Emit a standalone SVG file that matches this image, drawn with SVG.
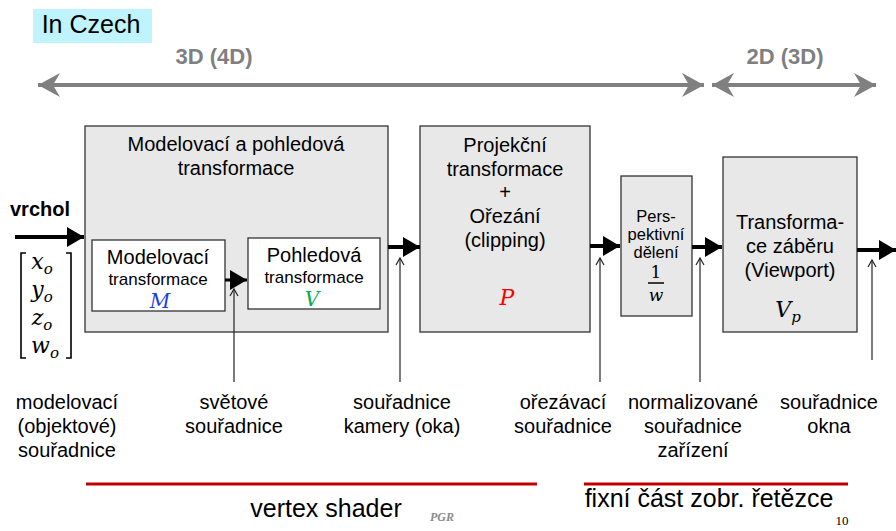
<svg xmlns="http://www.w3.org/2000/svg" width="896" height="531" viewBox="0 0 896 531">
<style>
text{font-family:"Liberation Sans",Arial,sans-serif;fill:#000;text-anchor:middle}
.box{fill:#e8e8e8;stroke:#333;stroke-width:1.3}
.wbox{fill:#fff;stroke:#333;stroke-width:1.3}
.t20{font-size:20px}
.t17{font-size:17px}
.t16{font-size:16.5px}
.math{font-family:"DejaVu Serif","Liberation Serif",serif;font-style:italic}
.thick{stroke:#000;stroke-width:4;fill:none}
.thin{stroke:#222;stroke-width:1.2;fill:none}
.gray{stroke:#808080;stroke-width:4;fill:none}
.red{stroke:#c00000;stroke-width:3}
</style>
<defs>
<marker id="bh" markerWidth="20" markerHeight="20" refX="17" refY="10" orient="auto" markerUnits="userSpaceOnUse">
<path d="M0,0 L17,10 L0,20 z" fill="#000"/>
</marker>
<marker id="th" markerWidth="10" markerHeight="10" refX="8" refY="5" orient="auto" markerUnits="userSpaceOnUse">
<path d="M1,1 L8,5 L1,9" fill="none" stroke="#222" stroke-width="1.2"/>
</marker>
<marker id="gh" markerWidth="24" markerHeight="24" refX="22" refY="12" orient="auto-start-reverse" markerUnits="userSpaceOnUse">
<path d="M0,0 L22,12 L0,24 L7,12 z" fill="#808080"/>
</marker>
</defs>

<g id="title">
<rect x="33" y="9" width="119" height="34" fill="#bff3fd"/>
<text x="91" y="33" style="font-size:25px">In Czech</text>
</g>

<g id="ranges">
<text x="214" y="64" style="font-size:22px;font-weight:bold;fill:#7f7f7f">3D (4D)</text>
<text x="785" y="64" style="font-size:22px;font-weight:bold;fill:#7f7f7f">2D (3D)</text>
</g>

<g id="vrchol">
<text x="40" y="216" style="font-size:20px;font-weight:bold">vrchol</text>
<path d="M26,253 H21 V358 H26 M66,253 H71 V358 H66" fill="none" stroke="#000" stroke-width="1.6"/>
<text x="42" y="269" class="math" style="font-size:22px">x<tspan dy="5" style="font-size:15px">o</tspan></text>
<text x="42" y="297" class="math" style="font-size:22px">y<tspan dy="5" style="font-size:15px">o</tspan></text>
<text x="42" y="325" class="math" style="font-size:22px">z<tspan dy="5" style="font-size:15px">o</tspan></text>
<text x="45" y="353" class="math" style="font-size:22px">w<tspan dy="5" style="font-size:15px">o</tspan></text>
</g>

<g id="mv">
<rect class="box" x="85" y="126" width="303" height="206"/>
<text x="236" y="151" class="t20">Modelovací a pohledová</text>
<text x="236" y="175" class="t20">transformace</text>
</g>
<g id="model">
<rect class="wbox" x="92" y="240" width="133" height="71"/>
<text x="158" y="264" class="t20">Modelovací</text>
<text x="158" y="285" class="t17">transformace</text>
<text x="160" y="308" class="math" style="font-size:20px;fill:#1a3fe0">M</text>
</g>
<g id="view">
<rect class="wbox" x="248" y="238" width="132" height="71"/>
<text x="314" y="262" class="t20">Pohledová</text>
<text x="314" y="283" class="t17">transformace</text>
<text x="312" y="306" class="math" style="font-size:20px;fill:#00b050">V</text>
</g>
<g id="proj">
<rect class="box" x="420" y="126" width="170" height="206"/>
<text x="505" y="152" class="t20">Projekční</text>
<text x="505" y="176" class="t20">transformace</text>
<text x="505" y="199" class="t20">+</text>
<text x="505" y="223" class="t20">Ořezání</text>
<text x="505" y="247" class="t20">(clipping)</text>
<text x="507" y="305" class="math" style="font-size:22px;fill:#ff0000">P</text>
</g>
<g id="persp">
<rect class="box" x="621" y="176" width="71" height="140"/>
<text x="656" y="222" class="t16">Pers-</text>
<text x="656" y="240" class="t16">pektivní</text>
<text x="656" y="258" class="t16">dělení</text>
<text x="656" y="278" style="font-size:17px;font-family:'DejaVu Serif',serif">1</text>
<line x1="648" y1="283" x2="664" y2="283" stroke="#000" stroke-width="1.5"/>
<text x="656" y="301" class="math" style="font-size:17px">w</text>
</g>
<g id="viewport">
<rect class="box" x="723" y="157" width="134" height="175"/>
<text x="790" y="229" class="t20">Transforma-</text>
<text x="790" y="253" class="t20">ce záběru</text>
<text x="790" y="277" class="t20">(Viewport)</text>
<text x="788" y="317" class="math" style="font-size:22px">V<tspan dy="5" style="font-size:15px">p</tspan></text>
</g>

<g id="connectors">
<line class="gray" x1="38" y1="85" x2="704" y2="85" marker-start="url(#gh)" marker-end="url(#gh)"/>
<line class="gray" x1="712" y1="85" x2="876" y2="85" marker-start="url(#gh)" marker-end="url(#gh)"/>
<line class="thick" x1="15" y1="237" x2="84" y2="237" marker-end="url(#bh)"/>
<line class="thick" x1="225" y1="280" x2="247" y2="280" style="stroke-width:3" marker-end="url(#bh)"/>
<line class="thick" x1="388" y1="247" x2="420" y2="247" marker-end="url(#bh)"/>
<line class="thick" x1="590" y1="246" x2="620" y2="246" marker-end="url(#bh)"/>
<line class="thick" x1="692" y1="247" x2="722" y2="247" marker-end="url(#bh)"/>
<line class="thick" x1="857" y1="250" x2="896" y2="250" marker-end="url(#bh)"/>
<line class="thin" x1="234" y1="382" x2="234" y2="289" marker-end="url(#th)"/>
<line class="thin" x1="400" y1="382" x2="400" y2="258" marker-end="url(#th)"/>
<line class="thin" x1="600" y1="382" x2="600" y2="258" marker-end="url(#th)"/>
<line class="thin" x1="700" y1="382" x2="700" y2="258" marker-end="url(#th)"/>
<line class="thin" x1="872" y1="360" x2="872" y2="260" marker-end="url(#th)"/>
</g>

<g id="labels">
<text x="67" y="409" class="t20">modelovací</text>
<text x="67" y="433" class="t20">(objektové)</text>
<text x="67" y="457" class="t20">souřadnice</text>
<text x="234" y="409" class="t20">světové</text>
<text x="234" y="433" class="t20">souřadnice</text>
<text x="402" y="409" class="t20">souřadnice</text>
<text x="402" y="433" class="t20">kamery (oka)</text>
<text x="563" y="409" class="t20">ořezávací</text>
<text x="563" y="433" class="t20">souřadnice</text>
<text x="693" y="409" class="t20">normalizované</text>
<text x="693" y="433" class="t20">souřadnice</text>
<text x="693" y="457" class="t20">zařízení</text>
<text x="829" y="409" class="t20">souřadnice</text>
<text x="829" y="433" class="t20">okna</text>
</g>

<g id="footer">
<line class="red" x1="86" y1="484" x2="537" y2="484"/>
<line class="red" x1="584" y1="484" x2="848" y2="484"/>
<text x="326" y="517" style="font-size:25px">vertex shader</text>
<text x="442" y="521" style="font-size:12px;font-family:'Liberation Serif',serif;font-style:italic;font-weight:bold;fill:#8c8c8c">PGR</text>
<text x="709" y="507" style="font-size:25px">fixní část zobr. řetězce</text>
<text x="842" y="525" style="font-size:13px;font-family:'Liberation Serif',serif">10</text>
</g>
</svg>
